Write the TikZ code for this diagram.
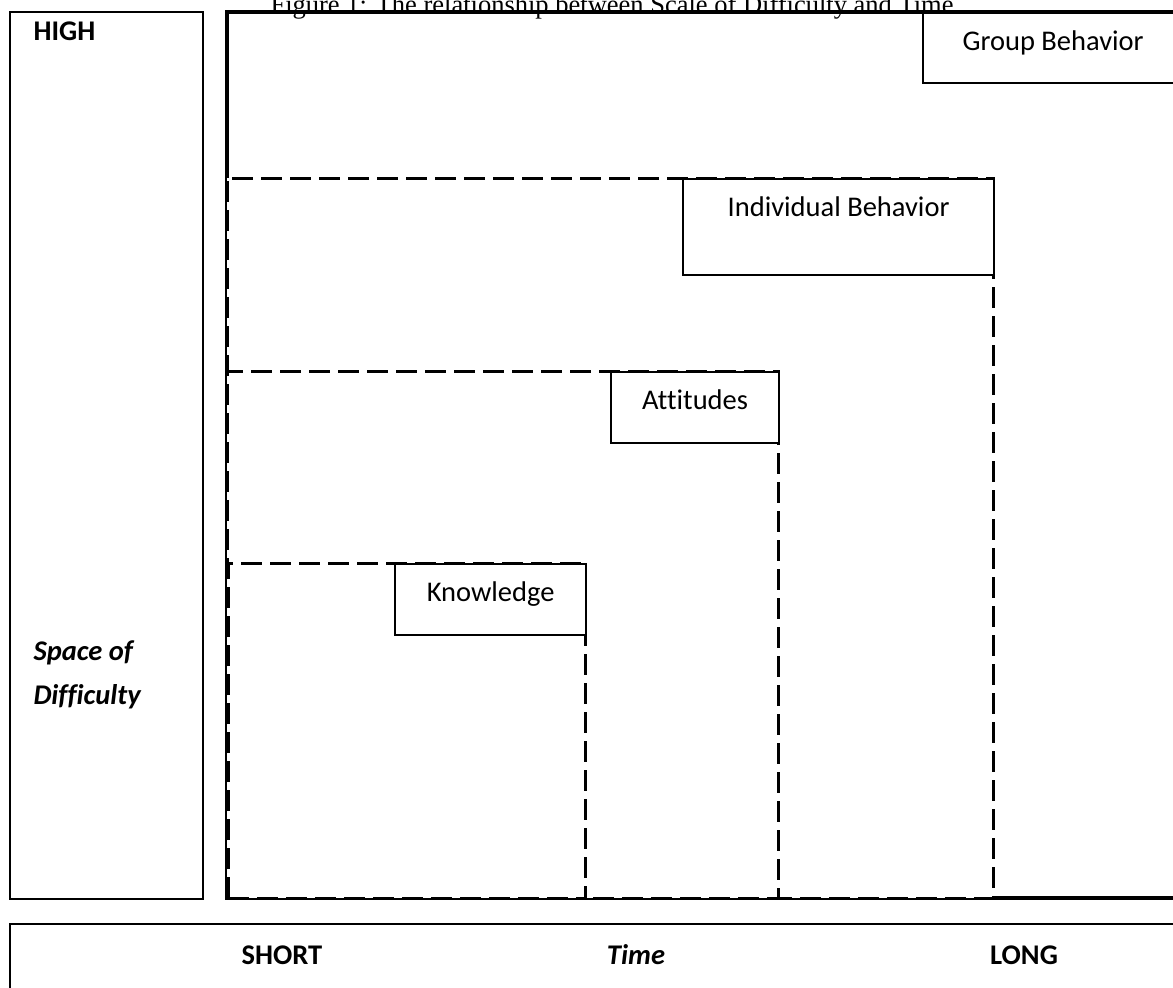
\documentclass[tikz,border=0pt]{standalone}
\usepackage{fontspec}
\setmainfont[Ligatures=NoCommon]{Carlito}
\newfontfamily\titlefont{Liberation Serif}
\usetikzlibrary{calc}
\tikzset{%
  levelarea/.style={draw=black, fill=white, line width=3pt, dash pattern=on 21pt off 8pt},
  levelbox/.style={draw=black, fill=white, line width=2.2pt, anchor=north west, inner sep=0pt},
  levelname/.style={anchor=base, font=\fontsize{28.5}{34}\selectfont},
  axisbox/.style={draw=black, line width=2.2pt, anchor=north west, inner sep=0pt},
  axisname/.style={anchor=base, font=\fontsize{28.5}{34}\selectfont\bfseries}
}

\begin{document}
\begin{tikzpicture}[x=1pt, y=-1pt]
\useasboundingbox (0,0) rectangle (1173,988);

% title, cut by the upper edge
\node [anchor=base, font=\titlefont\fontsize{26.5}{30}\selectfont] (title) at (612,13)
  {Figure 1: The relationship between Scale of Difficulty and Time};

% difficulty axis
\node [axisbox, minimum width=193pt, minimum height=887pt] (space) at (9,11) {};
\node [axisname, anchor=base west] (high) at (30,40) {HIGH};
\node [axisname, anchor=base west, font=\fontsize{28.5}{34}\selectfont\bfseries\itshape] (spaceof) at (30,660) {Space of};
\node [axisname, anchor=base west, font=\fontsize{28.5}{34}\selectfont\bfseries\itshape] (difficulty) at (30,704) {Difficulty};

% time axis
\node [axisbox, minimum width=1200pt, minimum height=90pt] (time) at (9,923) {};
\node [axisname] (short) at (282,964) {SHORT};
\node [axisname, font=\fontsize{28.5}{34}\selectfont\bfseries\itshape] (timename) at (636,964) {Time};
\node [axisname] (long) at (1024,964) {LONG};

% outer area
\draw [line width=4.5pt] (227,898) rectangle (1195,12);
\node [levelbox, minimum width=260pt, minimum height=70pt] (group) at (922,12) {};
\node [levelname] (group-text) at ($(group.north)+(0,38)$) {Group Behavior};

% nested areas
\foreach \name / \xl / \yt / \xr / \bx / \bw / \bh / \txt in {%
    indiv/227/178/993/682/311/96/Individual Behavior,
    atti/227/371/778/610/168/71/Attitudes,
    know/228/563/585/394/191/71/Knowledge}{
  \draw [levelarea] (\xl,898) rectangle (\xr,\yt);
  \node [levelbox, minimum width=\bw pt, minimum height=\bh pt] (\name) at (\bx,\yt) {};
  \node [levelname] (\name-text) at ($(\name.north)+(0,38)$) {\txt};
}

\end{tikzpicture}
\end{document}
